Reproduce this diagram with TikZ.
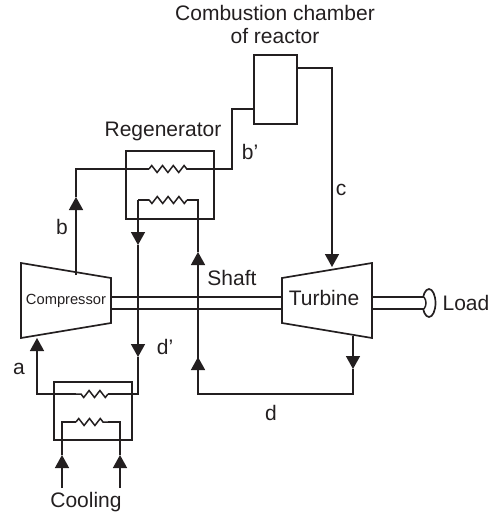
\documentclass[tikz,border=0pt]{standalone}
\usepackage{fontspec}
\setmainfont{Liberation Sans}
\usetikzlibrary{arrows.meta, decorations.pathmorphing, shapes.geometric}
\definecolor{ink}{HTML}{231F20}
\tikzset{
  pipe/.style={draw=ink, line width=1.5pt},
  flow/.style={pipe, -{Triangle[length=13pt, width=14pt]}},
  coil/.style={pipe, decorate, decoration={zigzag, segment length=10.8pt, amplitude=3.5pt}},
  vessel/.style={rectangle, draw=ink, line width=1.7pt, inner sep=0pt},
  machine/.style={draw=ink, line width=1.7pt, line join=miter},
  lbl/.style={text=ink, font=\fontsize{21}{23}\selectfont, inner sep=0pt},
}
\begin{document}
\begin{tikzpicture}[x=1pt, y=-1pt]
  \useasboundingbox (0,0) rectangle (489,517);

  % --- BOXES ---
  \node[vessel, minimum width=43pt, minimum height=69pt] (chamber) at (275.5,89.5) {};
  \node[vessel, minimum width=88pt, minimum height=68pt] (regen) at (170,185) {};
  \node[vessel, minimum width=78pt, minimum height=58pt] (cooler) at (93,411) {};

  % --- COMPRESSOR AND TURBINE ---
  \coordinate (C-a) at (21,263);
  \coordinate (C-b) at (111,278);
  \coordinate (C-c) at (111,323);
  \coordinate (C-d) at (21,338);
  \draw[machine] (C-a) -- (C-b) -- (C-c) -- (C-d) -- cycle;
  \coordinate (T-a) at (282,278);
  \coordinate (T-b) at (372,263);
  \coordinate (T-c) at (372,338);
  \coordinate (T-d) at (282,323);
  \draw[machine] (T-a) -- (T-b) -- (T-c) -- (T-d) -- cycle;

  % --- SHAFT AND LOAD ---
  \coordinate (S-1) at (111,297);
  \coordinate (S-2) at (111,309);
  \coordinate (S-3) at (282,297);
  \coordinate (S-4) at (282,309);
  \coordinate (L-1) at (372,297);
  \coordinate (L-2) at (372,309);
  \coordinate (L-3) at (424,297);
  \coordinate (L-4) at (424,309);
  \draw[pipe] (S-1) -- (S-3);
  \draw[pipe] (S-2) -- (S-4);
  \draw[pipe] (L-1) -- (L-3);
  \draw[pipe] (L-2) -- (L-4);
  \node[draw=ink, line width=1.7pt, ellipse, minimum width=13pt, minimum height=28pt, inner sep=0pt] (load) at (429,303) {};
  \fill[white] (421,298) rectangle (424,308);
  \draw[pipe] (L-3) to[bend left=35] (L-4);

  % --- COMPRESSOR TO COMBUSTION CHAMBER ---
  \coordinate (b-1) at (76,275);
  \coordinate (b-2) at (76,197);
  \coordinate (b-3) at (76,169);
  \coordinate (r1-a) at (149,169);
  \coordinate (r1-b) at (187,169);
  \coordinate (b-4) at (232,169);
  \coordinate (b-5) at (232,109);
  \coordinate (b-6) at (254,109);
  \draw[flow] (b-1) -- (b-2);
  \draw[pipe] (b-2) -- (b-3) -- (r1-a);
  \draw[coil] (r1-a) -- (r1-b);
  \draw[pipe] (r1-b) -- (b-4) -- (b-5) -- (b-6);

  % --- COMBUSTION CHAMBER TO TURBINE ---
  \coordinate (c-1) at (297,68);
  \coordinate (c-2) at (332,68);
  \coordinate (c-3) at (332,267);
  \draw[flow] (c-1) -- (c-2) -- (c-3);

  % --- TURBINE TO REGENERATOR ---
  \coordinate (d-1) at (353,336);
  \coordinate (d-2) at (353,369);
  \coordinate (d-3) at (353,394);
  \coordinate (d-4) at (198,394);
  \coordinate (d-5) at (198,357);
  \coordinate (d-6) at (198,252);
  \coordinate (d-7) at (198,200);
  \coordinate (r2-b) at (187,200);
  \coordinate (r2-a) at (149,200);
  \draw[flow] (d-1) -- (d-2);
  \draw[pipe] (d-2) -- (d-3) -- (d-4) -- (d-5);
  \draw[flow] (d-4) -- (d-5);
  \draw[flow] (d-5) -- (d-6);
  \draw[pipe] (d-6) -- (d-7) -- (r2-b);
  \draw[coil] (r2-b) -- (r2-a);

  % --- REGENERATOR TO COOLER TO COMPRESSOR ---
  \coordinate (e-1) at (138,200);
  \coordinate (e-2) at (138,245);
  \coordinate (e-3) at (138,357);
  \coordinate (e-4) at (138,394);
  \coordinate (r3-b) at (108,394);
  \coordinate (r3-a) at (76,394);
  \coordinate (a-1) at (37,394);
  \coordinate (a-2) at (37,338);
  \draw[pipe] (r2-a) -- (e-1);
  \draw[flow] (e-1) -- (e-2);
  \draw[flow] (e-2) -- (e-3);
  \draw[pipe] (e-3) -- (e-4) -- (r3-b);
  \draw[coil] (r3-b) -- (r3-a);
  \draw[flow] (r3-a) -- (a-1) -- (a-2);

  % --- COOLING ---
  \coordinate (f-1) at (62,488);
  \coordinate (f-2) at (62,455);
  \coordinate (f-3) at (62,422);
  \coordinate (r4-a) at (76,422);
  \coordinate (r4-b) at (108,422);
  \coordinate (f-4) at (120,422);
  \coordinate (f-5) at (120,455);
  \coordinate (f-6) at (120,488);
  \draw[flow] (f-1) -- (f-2);
  \draw[pipe] (f-2) -- (f-3) -- (r4-a);
  \draw[coil] (r4-a) -- (r4-b);
  \draw[pipe] (r4-b) -- (f-4) -- (f-5);
  \draw[flow] (f-6) -- (f-5);

  % --- LABELS ---
  \node[lbl, align=center] (title) at (275,24) {Combustion chamber\\of reactor};
  \node[lbl] (regenlbl) at (163,131) {Regenerator};
  \node[lbl] (blbl2) at (250,152) {b'};
  \node[lbl] (clbl) at (341,190) {c};
  \node[lbl] (blbl) at (62,227) {b};
  \node[lbl] (shaftlbl) at (232,278) {Shaft};
  \node[lbl] (turbinelbl) at (324,298) {Turbine};
  \node[lbl, font=\fontsize{14.7}{17}\selectfont] (complbl) at (66,301) {Compressor};
  \node[lbl] (loadlbl) at (466,303) {Load};
  \node[lbl] (dlbl2) at (165,347) {d'};
  \node[lbl] (albl) at (19,369) {a};
  \node[lbl] (dlbl) at (271,413) {d};
  \node[lbl] (coolinglbl) at (86,502) {Cooling};
\end{tikzpicture}
\end{document}
